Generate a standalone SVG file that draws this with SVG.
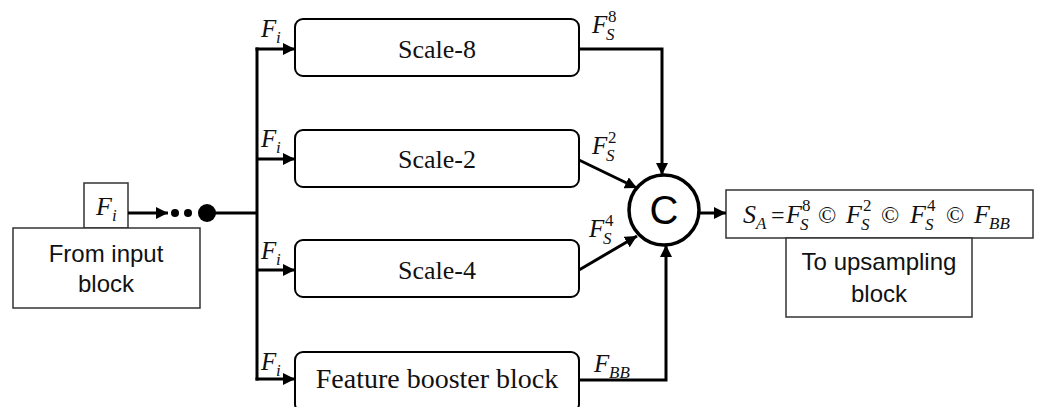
<svg xmlns="http://www.w3.org/2000/svg" width="1040" height="407" viewBox="0 0 1040 407">
<style>
.box{fill:#fff;stroke:#000;stroke-width:2}
.pbox{fill:#fff;stroke:#333;stroke-width:1.5}
.lbl{font-family:"Liberation Serif",serif;font-size:26px;fill:#111;text-anchor:middle}
.sans{font-family:"Liberation Sans",Arial,sans-serif;font-size:24px;fill:#111;text-anchor:middle}
.m{font-family:"Liberation Serif",serif;font-style:italic;fill:#111}
.u{font-family:"Liberation Serif",serif;font-style:normal;fill:#111}
.c{fill:none;stroke:#000;stroke-width:3}
</style>
<defs>
<marker id="ah" markerUnits="userSpaceOnUse" markerWidth="14" markerHeight="12" refX="12" refY="6" orient="auto">
<path d="M0,0 L12,6 L0,12 Z" fill="#000"/>
</marker>
</defs>

<g id="input">
<rect class="pbox" x="84" y="183" width="44" height="45"/>
<text class="m" x="96" y="215" font-size="26">F</text>
<text class="m" x="112" y="221" font-size="17">i</text>
<rect class="pbox" x="13" y="228" width="187" height="80"/>
<text class="sans" x="106" y="262">From input</text>
<text class="sans" x="106" y="292">block</text>
</g>

<g id="scale8">
<rect class="box" x="295" y="19" width="284" height="57" rx="8"/>
<text class="lbl" x="437" y="58">Scale-8</text>
</g>
<g id="scale2">
<rect class="box" x="295" y="130" width="284" height="57" rx="8"/>
<text class="lbl" x="437" y="168">Scale-2</text>
</g>
<g id="scale4">
<rect class="box" x="295" y="240" width="284" height="57" rx="8"/>
<text class="lbl" x="437" y="279">Scale-4</text>
</g>
<g id="booster">
<rect class="box" x="295" y="352" width="284" height="60" rx="8"/>
<text class="lbl" x="437" y="388" style="font-size:28px">Feature booster block</text>
</g>

<g id="concat">
<circle cx="664" cy="210" r="35" fill="#fff" stroke="#000" stroke-width="3.5"/>
<text x="664" y="224" font-family="Liberation Sans,Arial,sans-serif" font-size="40" text-anchor="middle" fill="#000">C</text>
</g>

<g id="result">
<rect class="pbox" x="726" y="190" width="307" height="48"/>
<text class="m" font-size="26" y="223">
<tspan x="743">S</tspan><tspan x="756" y="229" font-size="17">A</tspan><tspan class="u" x="771" y="223" font-size="24">=</tspan><tspan x="786" y="223">F</tspan><tspan class="u" x="802" y="211" font-size="17">8</tspan><tspan x="800" y="230" font-size="17">S</tspan><tspan class="u" x="818" y="223" font-size="24">©</tspan><tspan x="846" y="223">F</tspan><tspan class="u" x="863" y="211" font-size="17">2</tspan><tspan x="861" y="230" font-size="17">S</tspan><tspan class="u" x="881" y="223" font-size="24">©</tspan><tspan x="910" y="223">F</tspan><tspan class="u" x="927" y="211" font-size="17">4</tspan><tspan x="925" y="230" font-size="17">S</tspan><tspan class="u" x="946" y="223" font-size="24">©</tspan><tspan x="974" y="223">F</tspan><tspan x="989" y="229" font-size="17">BB</tspan>
</text>
<rect class="pbox" x="786" y="238" width="186" height="79"/>
<text class="sans" x="879" y="270">To upsampling</text>
<text class="sans" x="879" y="302">block</text>
</g>

<g id="connectors">
<line class="c" x1="128" y1="213" x2="168" y2="213" marker-end="url(#ah)"/>
<circle cx="175" cy="213" r="4" fill="#000"/>
<circle cx="188" cy="213" r="4" fill="#000"/>
<circle cx="207" cy="213" r="9" fill="#000"/>
<line class="c" x1="207" y1="213" x2="257" y2="213"/>
<line class="c" x1="257" y1="47.5" x2="257" y2="380.5"/>
<line class="c" x1="255.5" y1="49" x2="295" y2="49" marker-end="url(#ah)"/>
<line class="c" x1="257" y1="159" x2="295" y2="159" marker-end="url(#ah)"/>
<line class="c" x1="257" y1="270" x2="295" y2="270" marker-end="url(#ah)"/>
<line class="c" x1="255.5" y1="379" x2="295" y2="379" marker-end="url(#ah)"/>
<polyline class="c" points="579,49 662,49 662,175" marker-end="url(#ah)"/>
<line class="c" x1="579" y1="160" x2="637" y2="188" marker-end="url(#ah)"/>
<line class="c" x1="579" y1="270" x2="637" y2="236" marker-end="url(#ah)"/>
<polyline class="c" points="579,380 666,380 666,245" marker-end="url(#ah)"/>
<line class="c" x1="699" y1="213" x2="726" y2="213" marker-end="url(#ah)"/>
</g>

<g id="labels">
<text class="m" x="261" y="37" font-size="25">F</text><text class="m" x="276" y="43" font-size="17">i</text>
<text class="m" x="261" y="147" font-size="25">F</text><text class="m" x="276" y="153" font-size="17">i</text>
<text class="m" x="261" y="259" font-size="25">F</text><text class="m" x="276" y="265" font-size="17">i</text>
<text class="m" x="261" y="370" font-size="25">F</text><text class="m" x="276" y="376" font-size="17">i</text>
<text class="m" x="592" y="33" font-size="25">F</text><text class="u" x="608" y="22" font-size="17">8</text><text class="m" x="606" y="40" font-size="17">S</text>
<text class="m" x="592" y="154" font-size="25">F</text><text class="u" x="608" y="143" font-size="17">2</text><text class="m" x="606" y="161" font-size="17">S</text>
<text class="m" x="589" y="237" font-size="25">F</text><text class="u" x="605" y="226" font-size="17">4</text><text class="m" x="603" y="244" font-size="17">S</text>
<text class="m" x="594" y="372" font-size="25">F</text><text class="m" x="609" y="378" font-size="17">BB</text>
</g>
</svg>
